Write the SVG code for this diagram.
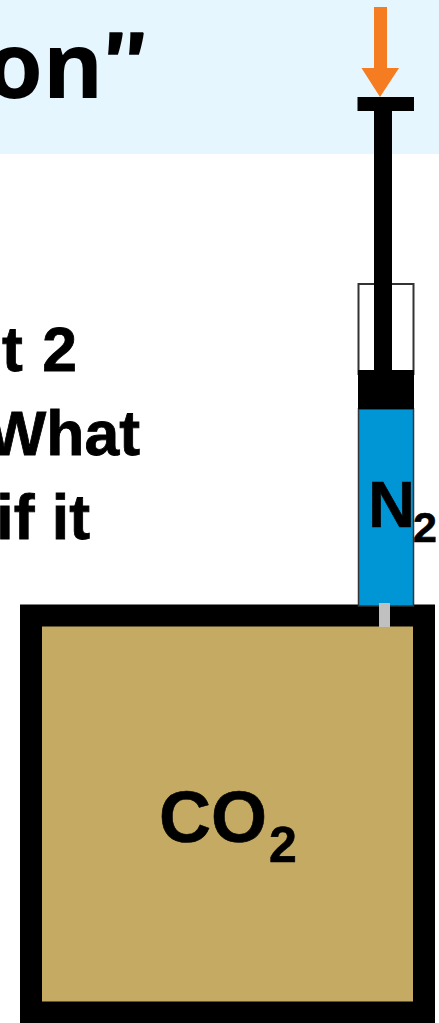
<svg xmlns="http://www.w3.org/2000/svg" width="439" height="1023" viewBox="0 0 439 1023">
<style>
.b{font-family:"Liberation Sans",Arial,sans-serif;font-weight:700;fill:#000}
.t{font-size:62.500px;text-anchor:end;stroke:#000;stroke-width:.8px}
</style>
<rect width="439" height="1023" fill="#fff"/>
<rect id="title-band" width="439" height="154" fill="#e6f6ff"/>
<g id="title">
<text x="103" y="98" text-anchor="end" style="font-family:'Noto Sans',sans-serif;font-weight:700;font-size:92px" fill="#000">on</text>
<text transform="translate(154 98) skewX(8)" text-anchor="end" style="font-family:'Noto Sans',sans-serif;font-weight:700;font-size:92px" fill="#000">”</text>
</g>
<g id="body-text">
<text class="b t" x="77" y="371" word-spacing="2">t 2</text>
<text class="b t" x="140" y="455">What</text>
<text class="b t" x="90" y="539">if it</text>
</g>
<g id="co2-box">
<rect x="31" y="615.500" width="393" height="397" fill="#c4aa63" stroke="#000" stroke-width="22"/>
<text class="b" x="159" y="842" font-size="72" stroke="#000" stroke-width=".6">CO<tspan font-size="50" dx="2" dy="20">2</tspan></text>
</g>
<g id="syringe">
<rect x="358.500" y="284" width="55" height="90" fill="#fff" stroke="#333" stroke-width="2"/>
<rect x="358.500" y="409" width="55" height="197" fill="#0096d6" stroke="#333" stroke-width="1.500"/>
<rect x="358" y="370" width="56" height="39" fill="#000"/>
<rect x="374" y="111" width="18" height="260" fill="#000"/>
<rect x="357.500" y="97" width="56.500" height="14" fill="#000"/>
<rect x="379" y="603" width="11" height="24" fill="#c0c0c0"/>
<text class="b" x="368" y="527" font-size="65" stroke="#000" stroke-width=".6">N</text>
<text class="b" x="413" y="542" font-size="43" stroke="#000" stroke-width=".6">2</text>
</g>
<g id="connectors">
<path id="arrow" d="M374 7H387V68H399L380 97L361.500 68H374Z" fill="#f57c20"/>
</g>
</svg>
